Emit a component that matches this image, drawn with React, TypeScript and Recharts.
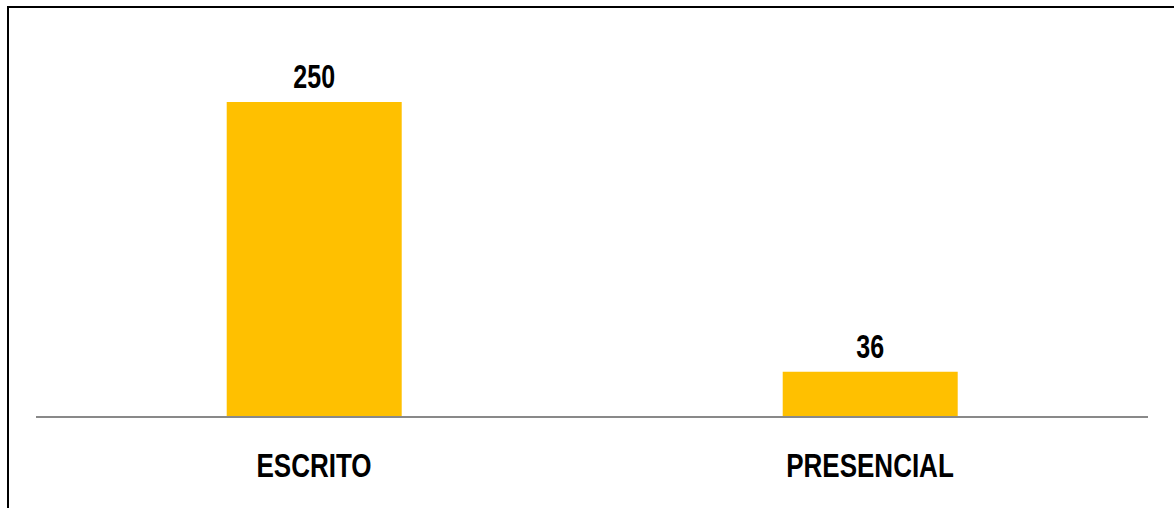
import { BarChart, Bar, XAxis, YAxis, LabelList } from 'recharts';

const categories = ['ESCRITO', 'PRESENCIAL'];
const values = [250, 36];

const data = categories.map((name, i) => ({ name, value: values[i] }));

const FONT = '"Liberation Sans", Arial, sans-serif';
// source text is a condensed bold face; stretch Arial bold vertically to match

function CategoryTick(props: any) {
  const { x, y, payload } = props;
  return (
    <text
      transform={`translate(${x}, ${y + 60}) scale(1, 1.25)`}
      textAnchor="middle"
      fill="#000"
      fontSize={26}
      fontWeight={700}
      fontFamily={FONT}
    >
      {payload.value}
    </text>
  );
}

function ValueLabel(props: any) {
  const { x, y, width, value } = props;
  return (
    <text
      transform={`translate(${Number(x) + Number(width) / 2}, ${Number(y) - 14}) scale(1, 1.3)`}
      textAnchor="middle"
      fill="#000"
      fontSize={25}
      fontWeight={700}
      fontFamily={FONT}
    >
      {value}
    </text>
  );
}

export default function App() {
  return (
    <div style={{ position: 'absolute', left: 0, top: 0, width: 1174, height: 508, overflow: 'hidden', background: '#fff' }}>
      {/* outer chart frame, cut off at right and bottom */}
      <div
        style={{
          position: 'absolute',
          left: 7,
          top: 6,
          width: 1300,
          height: 700,
          border: '2px solid #000',
          boxSizing: 'border-box',
        }}
      />
      <div style={{ position: 'absolute', left: 0, top: 0 }}>
        <BarChart
          width={1174}
          height={508}
          data={data}
          margin={{ top: 39, right: 26, bottom: 0, left: 36 }}
          barCategoryGap="34.3%"
        >
          <XAxis
            dataKey="name"
            height={91}
            axisLine={{ stroke: '#898989', strokeWidth: 2 }}
            tickLine={false}
            tickSize={0}
            tickMargin={0}
            tick={<CategoryTick />}
          />
          <YAxis hide domain={[0, 300]} />
          <Bar dataKey="value" fill="#FFC000" isAnimationActive={false}>
            <LabelList dataKey="value" content={<ValueLabel />} />
          </Bar>
        </BarChart>
      </div>
    </div>
  );
}
